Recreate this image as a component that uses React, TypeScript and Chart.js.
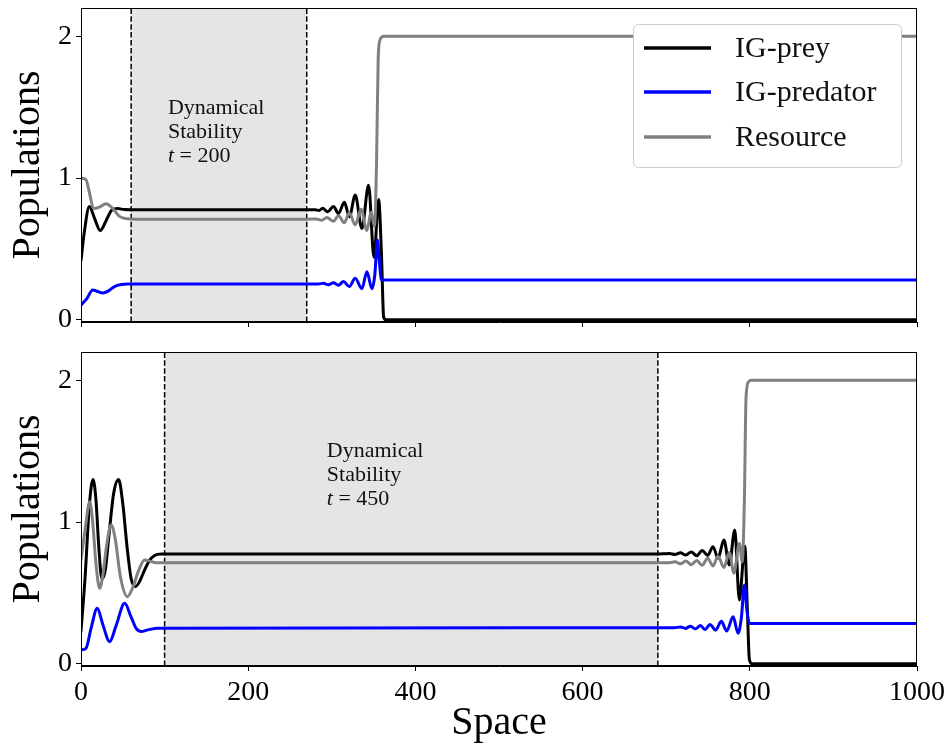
import React, { useEffect, useRef } from "react";
import { Chart, registerables } from "chart.js";

Chart.register(...registerables);

type P = [number, number];

const xTicks = [0, 200, 400, 600, 800, 1000];
const yTicks = [0, 1, 2];
const seriesLabels = ["IG-prey", "IG-predator", "Resource"];
const seriesColors = ["#000000", "#0000ff", "#808080"];
const xTitle = "Space";
const yTitle = "Populations";
const noteLines = ["Dynamical", "Stability"];

// ---- Top panel (t = 200) ----
const topTime = 200;
const topBand = [60, 270];
const topNoteAt: P = [104, 1.45];
const topPrey: P[] = [
  [0, 0.42], [4, 0.62], [10, 0.8], [16, 0.72], [23, 0.63], [30, 0.7], [37, 0.775], [44, 0.785],
  [52, 0.778], [70, 0.776], [270, 0.776], [280, 0.776], [285, 0.772], [289, 0.788], [295, 0.762],
  [302, 0.8], [308, 0.75], [315, 0.83], [321, 0.727], [328, 0.88], [336, 0.645], [344, 0.95],
  [350.5, 0.44], [356, 0.85], [359.5, 0.45], [362, 0.02], [365, 0], [1000, 0],
];
const topPredator: P[] = [
  [0, 0.105], [7, 0.15], [14, 0.21], [20, 0.2], [26, 0.19], [33, 0.205], [40, 0.235], [48, 0.25],
  [56, 0.253], [270, 0.253], [284, 0.253], [290, 0.258], [296, 0.248], [302, 0.262], [308, 0.245],
  [314, 0.27], [321, 0.235], [328, 0.293], [336, 0.22], [342, 0.34], [348, 0.22], [351.5, 0.32],
  [354.5, 0.563], [357, 0.4], [359.6, 0.281], [1000, 0.281],
];
const topResource: P[] = [
  [0, 1.0], [6, 0.99], [10, 0.9], [15, 0.785], [22, 0.795], [30, 0.82], [38, 0.785], [46, 0.73],
  [56, 0.713], [70, 0.71], [270, 0.71], [281, 0.712], [288, 0.703], [294, 0.722], [302, 0.695],
  [308, 0.735], [315, 0.685], [321, 0.755], [328, 0.67], [335, 0.78], [342, 0.63], [347, 0.76],
  [351, 0.66], [353.5, 1.1], [355.5, 1.85], [358, 1.98], [362, 2.0], [1000, 2.0],
];

// ---- Bottom panel (t = 450) ----
const bottomTime = 450;
const bottomBand = [100, 690];
const bottomNoteAt: P = [294, 1.46];
const bottomPrey: P[] = [
  [0, 0.23], [5, 0.62], [10, 1.12], [14.4, 1.3], [18, 1.15], [21, 0.85], [25, 0.6], [29, 0.66],
  [33, 0.88], [39, 1.2], [45, 1.3], [50, 1.13], [55, 0.83], [60, 0.6], [65, 0.545], [70, 0.58],
  [76, 0.662], [82, 0.73], [88, 0.765], [96, 0.775], [690, 0.775], [697, 0.776], [704, 0.779],
  [710.5, 0.772], [717, 0.783], [723.5, 0.768], [730, 0.79], [736.5, 0.762], [743, 0.8],
  [749.6, 0.765], [756, 0.827], [762, 0.745], [769, 0.874], [775.5, 0.698], [782, 0.944],
  [787.5, 0.451], [794, 0.83], [797, 0.4], [799.5, 0.03], [803, 0], [1000, 0],
];
const bottomPredator: P[] = [
  [0, 0.099], [6, 0.11], [12, 0.25], [19.5, 0.392], [26, 0.28], [34.3, 0.157], [42, 0.27],
  [52.2, 0.427], [60, 0.33], [66, 0.25], [72, 0.228], [80, 0.24], [92, 0.252], [690, 0.255],
  [710, 0.255], [717, 0.26], [723, 0.25], [729, 0.265], [735, 0.247], [741, 0.27], [746.6, 0.242],
  [752.4, 0.278], [759, 0.238], [766, 0.3], [772.4, 0.232], [780, 0.333], [786, 0.216], [790, 0.33],
  [793.5, 0.557], [796.5, 0.38], [799.4, 0.287], [803, 0.284], [1000, 0.284],
];
const bottomResource: P[] = [
  [0, 0.733], [5, 0.95], [10.4, 1.144], [14, 1.0], [18, 0.7], [22.3, 0.533], [26, 0.62], [31, 0.85],
  [36, 0.98], [41, 0.88], [47, 0.62], [55.4, 0.474], [62, 0.54], [69, 0.66], [76, 0.733], [82, 0.725],
  [90, 0.714], [690, 0.714], [704, 0.714], [710.5, 0.72], [717, 0.706], [723.5, 0.725], [730, 0.7],
  [736.5, 0.73], [743, 0.695], [749.6, 0.745], [756, 0.69], [762, 0.76], [769, 0.68], [775.5, 0.785],
  [781, 0.64], [787.5, 0.85], [791, 0.72], [793.5, 1.15], [795.5, 1.88], [798.5, 1.99], [802, 2.0],
  [1000, 2.0],
];

const FAMILY = "'Liberation Serif', 'Times New Roman', serif";

const decorPlugin = {
  id: "panelDecor",
  beforeDatasetsDraw(chart: any, _args: any, opts: any) {
    const { ctx, chartArea: a, scales } = chart;
    const x = scales.x;
    const y = scales.y;
    const x0 = x.getPixelForValue(opts.band[0]);
    const x1 = x.getPixelForValue(opts.band[1]);
    ctx.save();
    ctx.fillStyle = "rgb(229,229,229)";
    ctx.fillRect(x0, a.top, x1 - x0, a.bottom - a.top);
    ctx.strokeStyle = "#000";
    ctx.lineWidth = 1.5;
    ctx.setLineDash([5.5, 2.4]);
    for (const xv of [x0, x1]) {
      ctx.beginPath();
      ctx.moveTo(xv, a.bottom);
      ctx.lineTo(xv, a.top);
      ctx.stroke();
    }
    ctx.setLineDash([]);
    const tx = x.getPixelForValue(opts.noteAt[0]);
    const ty = y.getPixelForValue(opts.noteAt[1]);
    ctx.fillStyle = "#111";
    ctx.textAlign = "left";
    ctx.textBaseline = "alphabetic";
    ctx.font = `22px ${FAMILY}`;
    noteLines.forEach((l, i) => ctx.fillText(l, tx, ty + i * 24));
    const ty3 = ty + 2 * 24;
    ctx.font = `italic 22px ${FAMILY}`;
    ctx.fillText("t", tx, ty3);
    const w = ctx.measureText("t").width;
    ctx.font = `22px ${FAMILY}`;
    ctx.fillText(" = " + opts.time, tx + w, ty3);
    ctx.restore();
  },
  afterDatasetsDraw(chart: any, _args: any, opts: any) {
    const { ctx, chartArea: a } = chart;
    ctx.save();
    ctx.strokeStyle = "#000";
    ctx.lineWidth = 1;
    ctx.strokeRect(Math.round(a.left) + 0.5, Math.round(a.top) + 0.5, Math.round(a.right - a.left) - 1, Math.round(a.bottom - a.top) - 1);
    if (opts.legend) {
      const bw = 268;
      const bh = 143;
      const bx = a.right - 16 - bw;
      const by = a.top + 16;
      ctx.beginPath();
      ctx.roundRect(bx + 0.5, by + 0.5, bw, bh, 5);
      ctx.fillStyle = "#ffffff";
      ctx.fill();
      ctx.strokeStyle = "#cccccc";
      ctx.lineWidth = 1;
      ctx.stroke();
      const rows = [24, 68, 113];
      seriesLabels.forEach((lab, i) => {
        const ly = by + rows[i];
        ctx.beginPath();
        ctx.moveTo(bx + 11, ly);
        ctx.lineTo(bx + 78, ly);
        ctx.strokeStyle = seriesColors[i];
        ctx.lineWidth = 3.5;
        ctx.stroke();
        ctx.fillStyle = "#111";
        ctx.font = `30px ${FAMILY}`;
        ctx.textAlign = "left";
        ctx.textBaseline = "alphabetic";
        ctx.fillText(lab, bx + 102, ly + 9);
      });
    }
    ctx.restore();
  },
};

function buildConfig(o: {
  prey: P[];
  predator: P[];
  resource: P[];
  band: number[];
  noteAt: P;
  time: number;
  showXLabels: boolean;
  legend: boolean;
  padding: { top: number; bottom: number; left: number; right: number };
  xAxisHeight: number;
}): any {
  const series = [o.prey, o.predator, o.resource];
  const orders = [2, 1, 0];
  return {
    type: "line",
    data: {
      datasets: series.map((s, i) => ({
        label: seriesLabels[i],
        data: s.map(([x, y]) => ({ x, y })),
        borderColor: seriesColors[i],
        backgroundColor: seriesColors[i],
        borderWidth: 3,
        pointRadius: 0,
        fill: false,
        cubicInterpolationMode: "monotone",
        borderJoinStyle: "round",
        borderCapStyle: "round",
        order: orders[i],
      })),
    },
    options: {
      responsive: false,
      animation: false,
      devicePixelRatio: 1,
      layout: { padding: o.padding },
      plugins: {
        legend: { display: false },
        tooltip: { enabled: false },
        panelDecor: { band: o.band, noteAt: o.noteAt, time: o.time, legend: o.legend },
      },
      scales: {
        x: {
          type: "linear",
          min: 0,
          max: 1000,
          afterBuildTicks: (s: any) => {
            s.ticks = xTicks.map((v) => ({ value: v }));
          },
          afterFit: (s: any) => {
            s.height = o.xAxisHeight;
            s.paddingLeft = 0;
            s.paddingRight = 0;
          },
          ticks: {
            display: o.showXLabels,
            autoSkip: false,
            maxRotation: 0,
            padding: 5,
            color: "#000",
            font: { family: FAMILY, size: 28 },
            callback: (v: any) => String(v),
          },
          grid: { drawOnChartArea: false, drawTicks: true, tickLength: 5, color: "#000", lineWidth: 1 },
          border: { display: true, color: "#000", width: 1 },
          title: {
            display: o.showXLabels,
            text: xTitle,
            color: "#000",
            font: { family: FAMILY, size: 40 },
            padding: { top: 0, bottom: 0 },
          },
        },
        y: {
          type: "linear",
          min: -0.015,
          max: 2.2,
          afterBuildTicks: (s: any) => {
            s.ticks = yTicks.map((v) => ({ value: v }));
          },
          afterFit: (s: any) => {
            s.width = 81;
            s.paddingTop = 0;
            s.paddingBottom = 0;
          },
          ticks: {
            padding: 4,
            color: "#000",
            font: { family: FAMILY, size: 28 },
            callback: (v: any) => String(v),
          },
          grid: { drawOnChartArea: false, drawTicks: true, tickLength: 5, color: "#000", lineWidth: 1 },
          border: { display: true, color: "#000", width: 1 },
          title: {
            display: true,
            text: yTitle,
            color: "#000",
            font: { family: FAMILY, size: 40 },
            padding: { top: 4, bottom: 0 },
          },
        },
      },
    },
    plugins: [decorPlugin],
  };
}

export default function App() {
  const topRef = useRef<HTMLCanvasElement>(null);
  const botRef = useRef<HTMLCanvasElement>(null);
  useEffect(() => {
    const c1 = new Chart(
      topRef.current as HTMLCanvasElement,
      buildConfig({
        prey: topPrey,
        predator: topPredator,
        resource: topResource,
        band: topBand,
        noteAt: topNoteAt,
        time: topTime,
        showXLabels: false,
        legend: true,
        padding: { top: 8, bottom: 10, left: 0, right: 27 },
        xAxisHeight: 8,
      })
    );
    const c2 = new Chart(
      botRef.current as HTMLCanvasElement,
      buildConfig({
        prey: bottomPrey,
        predator: bottomPredator,
        resource: bottomResource,
        band: bottomBand,
        noteAt: bottomNoteAt,
        time: bottomTime,
        showXLabels: true,
        legend: false,
        padding: { top: 12, bottom: 0, left: 0, right: 27 },
        xAxisHeight: 81,
      })
    );
    return () => {
      c1.destroy();
      c2.destroy();
    };
  }, []);
  return (
    <div style={{ position: "absolute", left: 0, top: 0, width: 944, height: 747, background: "#fff" }}>
      <canvas ref={topRef} width={944} height={340} style={{ position: "absolute", left: 0, top: 0, width: 944, height: 340 }} />
      <canvas ref={botRef} width={944} height={407} style={{ position: "absolute", left: 0, top: 340, width: 944, height: 407 }} />
    </div>
  );
}
